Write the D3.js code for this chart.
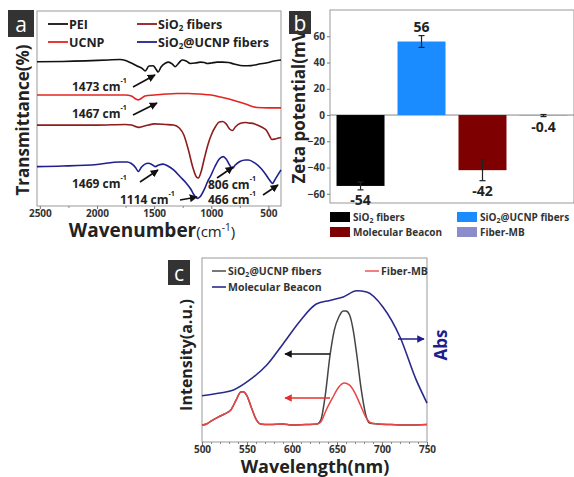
<!DOCTYPE html>
<html><head><meta charset="utf-8">
<script src="https://cdn.jsdelivr.net/npm/d3@7"></script>
<style>
body{margin:0;background:#fff}
text{font-family:"Open Sans",sans-serif;font-weight:bold;fill:#222}
</style>
</head><body><script>
var width = 574, height = 477;

// ---- panel a : FTIR (wavenumber, transmittance offset in a.u.)
var peiData = [[2525,74.0],[2300,74.1],[2100,74.4],[1900,74.9],[1800,75.1],[1750,74.6],[1700,73.3],[1650,71.8],[1600,70.3],[1579,69.2],[1545,71.8],[1509,71.9],[1485,70.3],[1465,68.7],[1440,71.3],[1400,73.3],[1377,73.8],[1340,72.8],[1316,71.4],[1285,73.3],[1255,74.9],[1220,74.4],[1184,73.1],[1140,73.3],[1096,73.8],[1060,73.6],[1035,73.1],[1000,73.3],[950,73.8],[900,73.8],[850,73.6],[800,72.8],[720,71.9],[650,72.0],[580,72.8],[500,73.6],[450,74.4],[390,74.9]];
var ucnpData = [[2525,56.9],[2000,56.9],[1750,56.9],[1700,56.4],[1660,54.9],[1640,54.4],[1620,54.9],[1580,56.4],[1500,56.9],[1400,57.4],[1300,57.7],[1200,57.7],[1100,57.4],[1000,56.9],[900,55.6],[800,54.1],[700,52.3],[600,50.5],[500,50.3],[390,50.3]];
var sio2Data = [[2525,41.5],[2000,41.5],[1750,41.8],[1700,41.5],[1650,40.5],[1630,40.3],[1600,40.8],[1550,41.5],[1500,42.1],[1400,41.8],[1330,41.5],[1280,40.0],[1240,36.4],[1200,28.7],[1160,19.5],[1130,14.9],[1114,14.4],[1090,17.4],[1060,24.6],[1030,31.3],[1000,36.4],[960,41.0],[930,43.1],[900,43.3],[870,42.1],[840,39.5],[816,38.7],[790,40.5],[750,42.3],[700,42.8],[675,42.6],[620,42.1],[560,40.5],[520,39.0],[490,35.9],[470,34.1],[440,34.4],[390,35.1]];
var sio2UcnpData = [[2525,20.2],[2300,20.5],[2000,21.3],[1800,22.6],[1737,22.6],[1700,21.8],[1660,19.5],[1640,17.7],[1610,20.0],[1553,21.9],[1520,21.3],[1491,20.2],[1460,21.0],[1421,21.5],[1380,20.5],[1330,18.5],[1272,15.0],[1220,11.8],[1180,8.7],[1150,5.6],[1123,3.9],[1100,4.6],[1060,8.7],[1030,12.8],[1009,15.0],[970,20.0],[930,24.1],[895,25.3],[870,24.1],[840,21.0],[816,19.3],[790,21.0],[750,22.8],[700,23.6],[675,23.6],[620,22.1],[560,19.0],[520,15.9],[490,13.3],[465,11.6],[440,13.8],[390,18.5]];
var ftirSeries = ["PEI", "UCNP", "SiO2 fibers", "SiO2@UCNP fibers"];
var ftirTicks = [2500, 2000, 1500, 1000, 500];

// ---- panel b : zeta potential
var zetaCats = ["SiO2 fibers", "SiO2@UCNP fibers", "Molecular Beacon", "Fiber-MB"];
var zetaValues = [-54, 56, -42, -0.4];
var zetaErrors = [3, 4.5, 8, 0.8];
var zetaTicks = [-60, -40, -20, 0, 20, 40, 60];

// ---- panel c : emission / absorbance (wavelength nm, a.u.)
var beaconAbs = [[500,25.4],[520,26.9],[535,28.6],[553,34.1],[572,42.3],[590,53.9],[609,66.5],[627,75.8],[642,77.8],[657,79.7],[672,83.1],[683,82.4],[701,74.2],[720,57.7],[738,34.1],[750,21.4]];
var ucnpEmission = [[500,9.3],[505,9.9],[510,11.5],[518,13.7],[525,15.4],[532,17.6],[538,23.1],[543,27.5],[546,27.6],[550,25.3],[555,18.7],[560,12.6],[565,9.9],[575,9.6],[590,9.9],[600,9.3],[615,9.6],[628,9.9],[632,12.1],[637,25.8],[642,46.7],[647,61.5],[652,68.7],[657,72.0],[660,72.0],[664,69.8],[668,61.5],[672,47.8],[677,28.6],[682,14.8],[686,10.4],[695,9.9],[710,9.6],[730,9.3],[750,9.6]];
var fiberMbEmission = [[500,9.3],[505,9.9],[510,11.5],[518,13.7],[525,15.4],[532,17.6],[538,23.1],[543,27.5],[546,27.6],[550,25.3],[555,18.7],[560,12.6],[565,9.9],[575,9.6],[590,9.9],[600,9.3],[615,9.6],[628,9.9],[632,11.0],[638,17.6],[645,24.2],[652,30.2],[658,32.4],[664,31.3],[670,26.9],[676,20.3],[682,13.7],[688,10.4],[695,9.9],[710,9.6],[730,9.3],[750,9.6]];
var emTicks = [500, 550, 600, 650, 700, 750];

var svg = d3.select("body").append("svg")
    .attr("width", width)
    .attr("height", height);

var defs = svg.append("defs");
function marker(id, color) {
  defs.append("marker").attr("id", id)
    .attr("viewBox", "0 0 10 10").attr("refX", 9).attr("refY", 5)
    .attr("markerWidth", 5).attr("markerHeight", 5).attr("orient", "auto")
    .append("path").attr("d", "M0,0L10,5L0,10z").attr("fill", color);
}
marker("arrK", "#111");
marker("arrR", "#e53030");
marker("arrB", "#1f1f8a");

function panelTag(x, y, w, h, t) {
  svg.append("rect").attr("x", x).attr("y", y).attr("width", w).attr("height", h).attr("fill", "#333");
  svg.append("text").attr("x", x + w / 2).attr("y", y + h / 2).attr("text-anchor", "middle")
    .attr("dominant-baseline", "central").style("fill", "#fff").style("font-weight", "normal")
    .style("font-size", "21px").text(t);
}
function sub2(sel, before, after, size) {
  sel.append("tspan").text(before);
  sel.append("tspan").text("2").style("font-size", size).attr("dy", 3);
  sel.append("tspan").text(after).attr("dy", -3);
}
function box(l, t, r, b) {
  svg.append("rect").attr("x", l).attr("y", t).attr("width", r - l).attr("height", b - t)
    .attr("fill", "none").attr("stroke", "#999").attr("stroke-width", 1);
}
function styleTicks(g) {
  g.select(".domain").remove();
  g.selectAll("line").attr("stroke", "#777");
  g.selectAll("text").style("font-size", "10px").style("font-family", "Open Sans")
    .style("font-weight", "bold").style("fill", "#333");
}
function minorTicks(g) {
  g.select(".domain").remove();
  g.selectAll("text").remove();
  g.selectAll("line").attr("stroke", "#888");
}

// ================= panel a =================
var ax = d3.scaleLinear().domain([2525, 390]).range([37, 281]);
var ay = d3.scaleLinear().domain([0, 100]).range([206, 11]);
box(37, 11, 281, 206);
svg.append("g").attr("transform", "translate(0,206)")
  .call(d3.axisBottom(ax).tickValues(ftirTicks).tickFormat(d3.format("d")).tickSize(3).tickPadding(1))
  .call(styleTicks);
svg.append("g").attr("transform", "translate(0,206)")
  .call(d3.axisBottom(ax).tickValues([2250, 1750, 1250, 750]).tickSize(2))
  .call(minorTicks);

var aLine = d3.line().x(function(d) { return ax(d[0]); }).y(function(d) { return ay(d[1]); }).curve(d3.curveMonotoneX);
var ftirData = [peiData, ucnpData, sio2Data, sio2UcnpData];
var ftirColors = ["#111", "#e3241f", "#8e1c1c", "#1f1f8f"];
ftirData.forEach(function(d, i) {
  svg.append("path").datum(d).attr("d", aLine).attr("fill", "none")
    .attr("stroke", ftirColors[i]).attr("stroke-width", 1.6);
});

// legend a
var aLeg = [[48, 24], [48, 42], [137, 24], [137, 42]];
ftirSeries.forEach(function(s, i) {
  var p = aLeg[i];
  svg.append("line").attr("x1", p[0]).attr("x2", p[0] + 20).attr("y1", p[1]).attr("y2", p[1])
    .attr("stroke", ftirColors[i]).attr("stroke-width", 1.8);
  var t = svg.append("text").attr("x", p[0] + 21).attr("y", p[1]).attr("dominant-baseline", "central")
    .style("font-size", "12.5px");
  if (s.indexOf("SiO2") === 0) sub2(t, "SiO", s.slice(4), "8px"); else t.text(s);
});

// annotations a
var aNotes = [
  ["1473", 72, 86, [133, 87], [155, 75]],
  ["1467", 72, 113, [133, 115], [157, 103]],
  ["1469", 72, 183, [140, 182], [158, 170]],
  ["1114", 120, 199, [180, 200], [197, 197]],
  ["806", 208, 184, [217, 178], [233, 167]],
  ["466", 208, 199, [263, 195], [278, 185]]
];
aNotes.forEach(function(n) {
  var t = svg.append("text").attr("x", n[1]).attr("y", n[2]).attr("dominant-baseline", "central")
    .style("font-size", "12px");
  t.append("tspan").text(n[0] + " cm");
  t.append("tspan").text("-1").style("font-size", "7px").attr("dy", -6);
  svg.append("line").attr("x1", n[3][0]).attr("y1", n[3][1]).attr("x2", n[4][0]).attr("y2", n[4][1])
    .attr("stroke", "#111").attr("stroke-width", 1.6).attr("marker-end", "url(#arrK)");
});

svg.append("text").attr("transform", "translate(29,120) rotate(-90)").attr("text-anchor", "middle")
  .style("font-size", "17px").text("Transmittance(%)");
var axl = svg.append("text").attr("x", 152).attr("y", 237).attr("text-anchor", "middle");
axl.append("tspan").text("Wavenumber").style("font-size", "19px");
axl.append("tspan").text("(cm").style("font-size", "15px").style("font-weight", "normal");
axl.append("tspan").text("-1").style("font-size", "10px").style("font-weight", "normal").attr("dy", -6);
axl.append("tspan").text(")").style("font-size", "15px").style("font-weight", "normal").attr("dy", 6);
panelTag(8, 10, 26, 27, "a");

// ================= panel b =================
var bx = d3.scaleBand().domain(zetaCats).range([330, 574]).paddingInner(0.213).paddingOuter(0.107);
var by = d3.scaleLinear().domain([-67, 80]).range([203, 10]);
var zetaColors = ["#000", "#1a8cff", "#7f0000", "#8c8ccc"];
box(330, 10, 574, 203);
svg.append("g").attr("transform", "translate(330,0)")
  .call(d3.axisLeft(by).tickValues(zetaTicks).tickSize(3).tickPadding(2))
  .call(styleTicks);
svg.append("line").attr("x1", 330).attr("x2", 574).attr("y1", by(0)).attr("y2", by(0)).attr("stroke", "#888");

zetaCats.forEach(function(c, i) {
  var v = zetaValues[i], e = zetaErrors[i], cx = bx(c) + bx.bandwidth() / 2;
  svg.append("rect").attr("x", bx(c)).attr("width", bx.bandwidth())
    .attr("y", by(Math.max(0, v))).attr("height", Math.abs(by(v) - by(0))).attr("fill", zetaColors[i]);
  svg.append("line").attr("x1", cx).attr("x2", cx).attr("y1", by(v - e)).attr("y2", by(v + e))
    .attr("stroke", "#222").attr("stroke-width", 1.2);
  [v - e, v + e].forEach(function(q) {
    svg.append("line").attr("x1", cx - 3).attr("x2", cx + 3).attr("y1", by(q)).attr("y2", by(q))
      .attr("stroke", "#222").attr("stroke-width", 1.2);
  });
  var ly = v > 0 ? by(v + e) - 9 : by(v - e) + 10;
  svg.append("text").attr("x", cx).attr("y", ly).attr("text-anchor", "middle")
    .attr("dominant-baseline", "central").style("font-size", "14px").text(String(v));
});

var bLeg = [[330, 217], [457, 217], [330, 232], [457, 232]];
zetaCats.forEach(function(c, i) {
  var p = bLeg[i];
  svg.append("rect").attr("x", p[0]).attr("y", p[1] - 5).attr("width", 20).attr("height", 10).attr("fill", zetaColors[i]);
  var t = svg.append("text").attr("x", p[0] + 23).attr("y", p[1]).attr("dominant-baseline", "central")
    .style("font-size", "10px").style("fill", "#333");
  if (c.indexOf("SiO2") === 0) sub2(t, "SiO", c.slice(4), "7px"); else t.text(c);
});
svg.append("text").attr("transform", "translate(305,104) rotate(-90)").attr("text-anchor", "middle")
  .style("font-size", "17px").text("Zeta potential(mV)");
panelTag(289, 11, 22, 23, "b");

// ================= panel c =================
var cx = d3.scaleLinear().domain([500, 750]).range([202, 427]);
var cy = d3.scaleLinear().domain([0, 100]).range([442, 260]);
box(202, 258, 427, 442);
svg.append("g").attr("transform", "translate(0,442)")
  .call(d3.axisBottom(cx).tickValues(emTicks).tickSize(3).tickPadding(1))
  .call(styleTicks);
svg.append("g").attr("transform", "translate(0,442)")
  .call(d3.axisBottom(cx).tickValues(d3.range(510, 750, 10).filter(function(v) { return v % 50; })).tickSize(2))
  .call(minorTicks);

var cLine = d3.line().x(function(d) { return cx(d[0]); }).y(function(d) { return cy(d[1]); }).curve(d3.curveMonotoneX);
svg.append("path").datum(beaconAbs).attr("d", cLine).attr("fill", "none").attr("stroke", "#2a2a8c").attr("stroke-width", 1.6);
svg.append("path").datum(ucnpEmission).attr("d", cLine).attr("fill", "none").attr("stroke", "#444").attr("stroke-width", 1.5);
svg.append("path").datum(fiberMbEmission).attr("d", cLine).attr("fill", "none").attr("stroke", "#e84545").attr("stroke-width", 1.5);

// arrows c
svg.append("line").attr("x1", 330).attr("x2", 285).attr("y1", 354).attr("y2", 354)
  .attr("stroke", "#111").attr("stroke-width", 1.5).attr("marker-end", "url(#arrK)");
svg.append("line").attr("x1", 330).attr("x2", 285).attr("y1", 398).attr("y2", 398)
  .attr("stroke", "#e53030").attr("stroke-width", 1.5).attr("marker-end", "url(#arrR)");
svg.append("line").attr("x1", 398).attr("x2", 424).attr("y1", 339).attr("y2", 339)
  .attr("stroke", "#1f1f8a").attr("stroke-width", 1.5).attr("marker-end", "url(#arrB)");

// legend c
var cLegNames = ["SiO2@UCNP fibers", "Fiber-MB", "Molecular Beacon"];
var cLegColors = ["#555", "#ef6060", "#2a2a8c"];
var cLeg = [[212, 271], [365, 271], [212, 287]];
cLegNames.forEach(function(s, i) {
  var p = cLeg[i];
  svg.append("line").attr("x1", p[0]).attr("x2", p[0] + 14).attr("y1", p[1]).attr("y2", p[1])
    .attr("stroke", cLegColors[i]).attr("stroke-width", 1.6);
  var t = svg.append("text").attr("x", p[0] + 16).attr("y", p[1]).attr("dominant-baseline", "central")
    .style("font-size", "10.5px").style("fill", "#333");
  if (s.indexOf("SiO2") === 0) sub2(t, "SiO", s.slice(4), "7px"); else t.text(s);
});

svg.append("text").attr("transform", "translate(192,355) rotate(-90)").attr("text-anchor", "middle")
  .style("font-size", "16px").text("Intensity(a.u.)");
svg.append("text").attr("transform", "translate(447,345) rotate(-90)").attr("text-anchor", "middle")
  .style("font-size", "17px").style("fill", "#1f1f8a").text("Abs");
svg.append("text").attr("x", 315).attr("y", 473).attr("text-anchor", "middle")
  .style("font-size", "18px").text("Wavelength(nm)");
panelTag(168, 260, 22, 25, "c");
</script></body></html>
